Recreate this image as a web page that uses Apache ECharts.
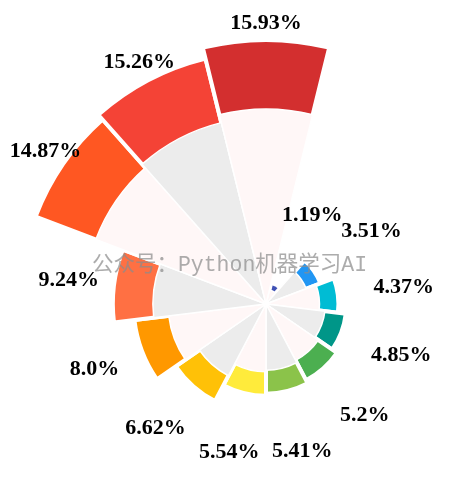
<!DOCTYPE html>
<html>
<head>
<meta charset="utf-8">
<script src="https://cdn.jsdelivr.net/npm/echarts@6/dist/echarts.min.js"></script>
<style>
  html, body { margin: 0; padding: 0; background: #fff; }
  #chart { width: 459px; height: 477px; }
</style>
</head>
<body>
<div id="chart"></div>
<script>
  // shares, clockwise from just right of the top slice
  var shares = [1.19, 3.51, 4.37, 4.85, 5.2, 5.41, 5.54, 6.62, 8.0, 9.24, 14.87, 15.26, 15.93]
  var colors = ['#3f51b5', '#2196f3', '#00bcd4', '#009688', '#4caf50', '#8bc34a',
                '#ffeb3b', '#ffc107', '#ff9800', '#ff7043', '#ff5722', '#f44336', '#d32f2f']
  var bgColors = ['#fff7f7', '#ececec']
  var watermark = '公众号：Python机器学习AI'

  var center = [266, 304]
  var step = 360 / shares.length
  var start = 90 - step / 2

  function fmt(v) {
    return (Number.isInteger(v) ? v.toFixed(1) : String(v)) + '%'
  }

  var chart = echarts.init(document.getElementById('chart'), null, {renderer: 'canvas'})
  chart.setOption({
    backgroundColor: '#fff',
    animation: false,
    graphic: [{
      type: 'text',
      left: 'center',
      top: 255,
      z: 50,
      style: {
        text: watermark,
        fontSize: 21.5,
        fontFamily: "'Liberation Mono', 'Noto Sans CJK SC'",
        fill: 'rgba(140,140,140,0.72)'
      }
    }],
    series: [
      {
        // coloured petals
        type: 'pie',
        roseType: 'area',
        center: center,
        radius: [0, 264],
        startAngle: start,
        clockwise: true,
        avoidLabelOverlap: false,
        silent: true,
        z: 1,
        label: {show: false},
        labelLine: {show: false},
        itemStyle: {borderColor: '#fff', borderWidth: 4},
        data: shares.map(function (v, i) {
          // the tiniest petal gets no edge so it stays visible
          return {value: v, itemStyle: {color: colors[i], borderWidth: v < 2 ? 0 : 4}}
        })
      },
      {
        // light background wedges
        type: 'pie',
        roseType: 'area',
        center: center,
        radius: [0, 195],
        startAngle: start,
        clockwise: true,
        avoidLabelOverlap: false,
        silent: true,
        z: 2,
        label: {show: false},
        labelLine: {show: false},
        itemStyle: {borderColor: '#fff', borderWidth: 1.5},
        data: shares.map(function (v, i) {
          return {value: v, itemStyle: {color: bgColors[i % 2]}}
        })
      },
      {
        // invisible ring carrying the percentage labels
        type: 'pie',
        roseType: 'area',
        center: center,
        radius: [82, 474],
        startAngle: start,
        clockwise: true,
        avoidLabelOverlap: false,
        silent: true,
        z: 3,
        itemStyle: {color: 'rgba(0,0,0,0)', borderWidth: 0},
        labelLine: {show: false},
        labelLayout: {hideOverlap: false},
        label: {
          show: true,
          position: 'inside',
          formatter: function (p) { return fmt(p.value) },
          color: '#000',
          fontSize: 22,
          fontWeight: 'bold',
          fontFamily: "'Liberation Serif', serif"
        },
        data: shares.slice()
      }
    ]
  })
</script>
</body>
</html>
